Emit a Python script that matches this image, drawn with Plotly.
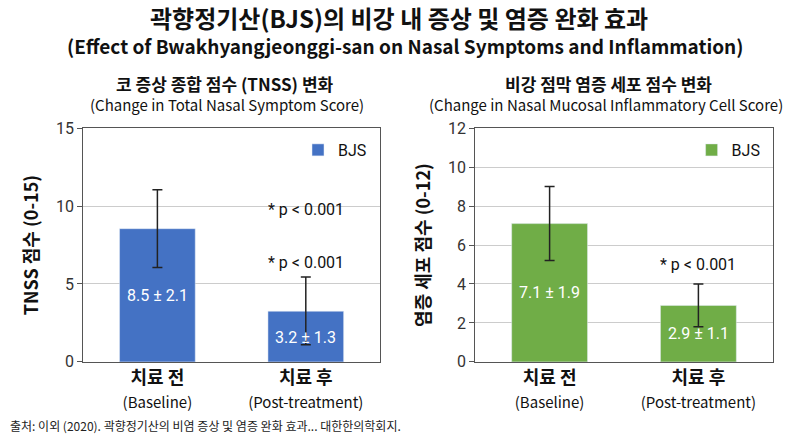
import plotly.graph_objects as go
from plotly.subplots import make_subplots

categories = ["치료 전", "치료 후"]
categories_en = ["(Baseline)", "(Post-treatment)"]

tnss_values = [8.55, 3.25]
tnss_err_plus = [2.5, 2.2]
tnss_err_minus = [2.5, 2.15]
tnss_labels = ["8.5 ± 2.1", "3.2 ± 1.3"]

cell_values = [7.1, 2.9]
cell_err_plus = [1.9, 1.1]
cell_err_minus = [1.9, 1.1]
cell_labels = ["7.1 ± 1.9", "2.9 ± 1.1"]

BLUE = "#4472C4"
GREEN = "#70AD47"
FONT = "Roboto, 'Noto Sans CJK KR', sans-serif"
KFONT = "'Noto Sans CJK KR', Roboto, sans-serif"

ticktext = [f"<b>{k}</b><br><span style='font-size:15px'>{e}</span>" for k, e in zip(categories, categories_en)]

fig = make_subplots(rows=1, cols=2)

fig.add_trace(go.Bar(
    x=categories, y=tnss_values, name="BJS", marker_color=BLUE, showlegend=True,
    error_y=dict(type="data", symmetric=False, array=tnss_err_plus, arrayminus=tnss_err_minus,
                 color="#222222", thickness=1.5, width=5),
    legend="legend", width=0.51,
), row=1, col=1)

fig.add_trace(go.Bar(
    x=categories, y=cell_values, name="BJS", marker_color=GREEN, showlegend=True,
    error_y=dict(type="data", symmetric=False, array=cell_err_plus, arrayminus=cell_err_minus,
                 color="#222222", thickness=1.5, width=5),
    legend="legend2", width=0.51,
), row=1, col=2)

axis_common = dict(showline=True, linecolor="#555555", linewidth=1, mirror=True, automargin=False)

fig.update_xaxes(domain=[0.104, 0.475], row=1, col=1)
fig.update_xaxes(domain=[0.594, 0.966], row=1, col=2)
for c in (1, 2):
    fig.update_xaxes(tickvals=categories, ticktext=ticktext, ticks="",
                     tickfont=dict(family=KFONT, size=18, color="#111111"),
                     **axis_common, row=1, col=c)

fig.update_yaxes(domain=[0.17, 0.706], range=[0, 15], dtick=5, row=1, col=1)
fig.update_yaxes(domain=[0.17, 0.706], range=[0, 12], dtick=2, row=1, col=2)
fig.update_yaxes(title_text="<b>TNSS 점수 (0-15)</b>", row=1, col=1)
fig.update_yaxes(title_text="<b>염증 세포 점수 (0-12)</b>", row=1, col=2)
for c in (1, 2):
    fig.update_yaxes(showgrid=True, gridcolor="#cccccc", gridwidth=1,
                     ticks="outside", ticklen=5, tickcolor="#555555",
                     tickfont=dict(family=FONT, size=16, color="#333333"),
                     title_font=dict(family=KFONT, size=18, color="#111111"),
                     title_standoff=12, zeroline=False,
                     **axis_common, row=1, col=c)

ann = []
# in-bar labels
for cat, v, lab in zip(categories, [4.25, 1.55], tnss_labels):
    ann.append(dict(x=cat, y=v, xref="x", yref="y", text=lab, showarrow=False,
                    font=dict(family=FONT, size=16, color="white")))
for cat, v, lab in zip(categories, [3.55, 1.44], cell_labels):
    ann.append(dict(x=cat, y=v, xref="x2", yref="y2", text=lab, showarrow=False,
                    font=dict(family=FONT, size=16, color="white")))
# p-values
for yv in (9.8, 6.4):
    ann.append(dict(x=categories[1], y=yv, xref="x", yref="y", text="* p < 0.001",
                    showarrow=False, font=dict(family=FONT, size=16, color="#111111")))
ann.append(dict(x=categories[1], y=5.0, xref="x2", yref="y2", text="* p < 0.001",
                showarrow=False, font=dict(family=FONT, size=16, color="#111111")))

def title(x, y, text, size, bold=True):
    return dict(x=x/800, y=1 - y/436, xref="paper", yref="paper", xanchor="center", yanchor="middle",
                text=f"<b>{text}</b>" if bold else text, showarrow=False,
                font=dict(family=KFONT, size=size, color="#111111"))

ann.append(title(399, 18, "곽향정기산(BJS)의 비강 내 증상 및 염증 완화 효과", 24))
ann.append(title(405, 45, "(Effect of Bwakhyangjeonggi-san on Nasal Symptoms and Inflammation)", 19))
ann.append(title(225, 83, "코 증상 종합 점수 (TNSS) 변화", 17))
ann.append(title(227, 104, "(Change in Total Nasal Symptom Score)", 15, bold=False))
ann.append(title(608, 83, "비강 점막 염증 세포 점수 변화", 17))
ann.append(title(606, 104, "(Change in Nasal Mucosal Inflammatory Cell Score)", 15, bold=False))
ann.append(dict(x=8/800, y=1 - 425/436, xref="paper", yref="paper", xanchor="left", yanchor="middle",
                text="출처: 이외 (2020). 곽향정기산의 비염 증상 및 염증 완화 효과... 대한한의학회지.", showarrow=False,
                font=dict(family=KFONT, size=12, color="#222222")))

fig.update_layout(
    width=800, height=436,
    margin=dict(l=0, r=0, t=0, b=0),
    paper_bgcolor="white", plot_bgcolor="white",
    annotations=ann,
    showlegend=True,
    legend=dict(x=0.465, y=0.695, xanchor="right", yanchor="top", bgcolor="rgba(0,0,0,0)",
                font=dict(family=FONT, size=16, color="#111111")),
    legend2=dict(x=0.957, y=0.695, xanchor="right", yanchor="top", bgcolor="rgba(0,0,0,0)",
                 font=dict(family=FONT, size=16, color="#111111")),
    font=dict(family=FONT),
)

fig.write_html("out.html", config={"displayModeBar": False},
               post_script="document.body.style.margin='0';document.body.style.overflow='hidden';")
